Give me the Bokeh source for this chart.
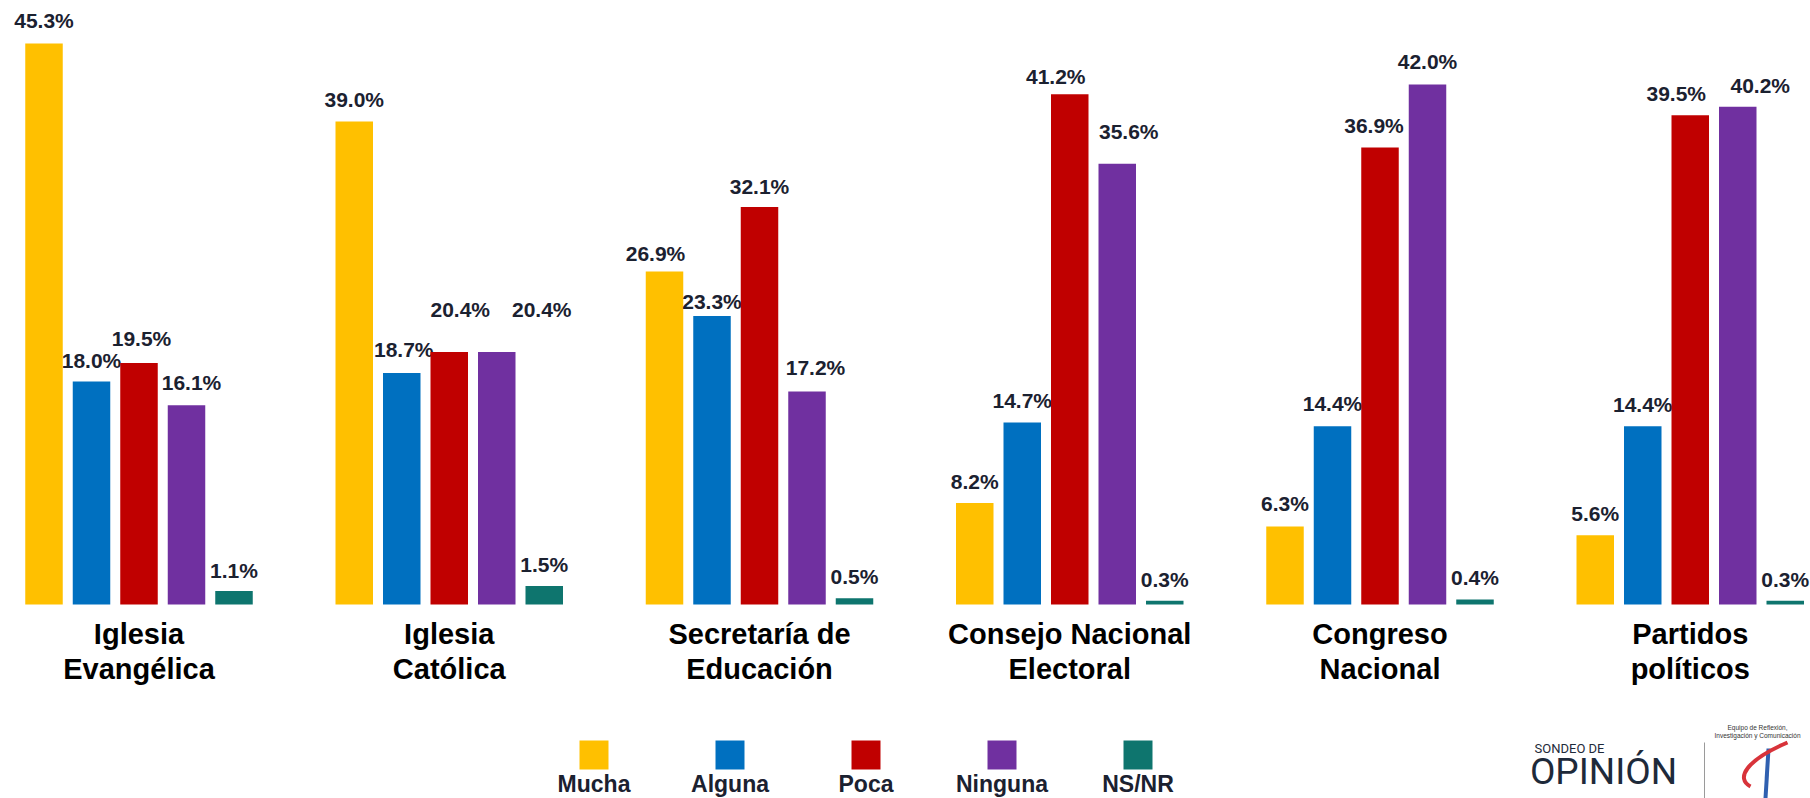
from bokeh.plotting import figure
from bokeh.models import Range1d, ColumnDataSource
from bokeh.core.properties import value
from bokeh.embed import file_html
from bokeh.resources import INLINE

# ---------------- data ----------------
categories = ["Iglesia\nEvangélica", "Iglesia\nCatólica", "Secretaría de\nEducación",
              "Consejo Nacional\nElectoral", "Congreso\nNacional", "Partidos\npolíticos"]
series = ["Mucha", "Alguna", "Poca", "Ninguna", "NS/NR"]
mucha = [45.3, 39.0, 26.9, 8.2, 6.3, 5.6]
alguna = [18.0, 18.7, 23.3, 14.7, 14.4, 14.4]
poca = [19.5, 20.4, 32.1, 41.2, 36.9, 39.5]
ninguna = [16.1, 20.4, 17.2, 35.6, 42.0, 40.2]
nsnr = [1.1, 1.5, 0.5, 0.3, 0.4, 0.3]
values_by_series = [mucha, alguna, poca, ninguna, nsnr]
colors = ["#FFC000", "#0070C0", "#C00000", "#7030A0", "#0E756E"]

# label nudges (screen px) – layout only
label_dx = [[0, 0, -9, 0, 0, 0],
            [0, 2, 0, 0, 0, 0],
            [2.5, 11, 0, -14, -6, -14],
            [5, 45, 8.5, 11.5, 0, 22.5],
            [0, 0, 0, 0, 0, 0]]
label_gap = [[16, 15, 11, 15, 16, 15],
             [14, 17, 8, 15, 16, 15],
             [18, 36, 14, 11, 15, 15],
             [16, 36, 17, 25, 16, 14],
             [14, 15, 15, 15, 15, 15]]

# ---------------- layout ----------------
W, H = 1810, 798
PX_X = 310.25          # px per group
PX_Y = 12.383          # px per percentage point
X0 = 138.5             # page px of first group centre
BASE = 604             # page px of baseline
BAR_STEP = 47.5 / PX_X
BAR_W = 37.5 / PX_X
SHIFT = 0.32           # empirical text baseline correction (fraction of font size)


def dx(page_x):
    return (page_x - X0) / PX_X


def dy(page_y):
    return (BASE - page_y) / PX_Y


def ty(page_y, fs):
    return dy(page_y - SHIFT * fs)


p = figure(width=W, height=H, x_range=Range1d(dx(0), dx(W)),
           y_range=Range1d(dy(H), dy(0)),
           output_backend="svg", toolbar_location=None,
           x_axis_type=None, y_axis_type=None, min_border=0,
           outline_line_color=None, background_fill_color="white",
           border_fill_color="white")
p.grid.visible = False

LABEL_COLOR = "#1b2130"
n = len(categories)
VFS = 21
for j, (name, vals, col) in enumerate(zip(series, values_by_series, colors)):
    xs = [i + (j - 2) * BAR_STEP for i in range(n)]
    src = ColumnDataSource(dict(x=xs, top=vals))
    p.vbar(x="x", top="top", bottom=0, width=BAR_W, source=src,
           fill_color=col, line_color=None)
    lx = [xs[i] + label_dx[j][i] / PX_X for i in range(n)]
    ly = [vals[i] + (label_gap[j][i] + SHIFT * VFS) / PX_Y for i in range(n)]
    lt = [f"{v:.1f}%" for v in vals]
    p.text(x=lx, y=ly, text=lt, text_font=value("Liberation Sans"),
           text_font_style="bold", text_font_size=f"{VFS}px", text_align="center",
           text_baseline="alphabetic", text_color=LABEL_COLOR)

# category labels (two lines)
CFS = 29
line1 = [c.split("\n")[0] for c in categories]
line2 = [c.split("\n")[1] for c in categories]
for lines, py in ((line1, 643), (line2, 678)):
    p.text(x=list(range(n)), y=[ty(py, CFS)] * n, text=lines,
           text_font=value("Liberation Sans"), text_font_style="bold",
           text_font_size=f"{CFS}px", text_align="center",
           text_baseline="alphabetic", text_color="#000000")

# legend
LFS = 23
leg_x = [dx(593.5 + 136 * k) for k in range(len(series))]
p.rect(x=leg_x, y=[dy(754.5)] * len(series), width=29, height=29,
       width_units="screen", height_units="screen",
       fill_color=colors, line_color=None)
p.text(x=leg_x, y=[ty(791, LFS)] * len(series), text=series,
       text_font=value("Liberation Sans"), text_font_style="bold",
       text_font_size=f"{LFS}px", text_align="center",
       text_baseline="alphabetic", text_color=LABEL_COLOR)

# logo area
p.text(x=[dx(1569)], y=[ty(752, 13)], text=["SONDEO DE"], text_font=value("Roboto"),
       text_font_size="13px", text_align="center", text_baseline="alphabetic",
       text_color="#1e2a3a")
p.text(x=[dx(1603)], y=[ty(783, 37)], text=["OPINIÓN"], text_font=value("Roboto"),
       text_font_size="37px", text_align="center", text_baseline="alphabetic",
       text_color="#1e2a3a")
p.line(x=[dx(1704), dx(1704)], y=[dy(742), dy(798)], line_color="#9a9a9a",
       line_width=1)
p.text(x=[dx(1757), dx(1757)], y=[ty(729, 6.5), ty(737, 6.5)],
       text=["Equipo de Reflexión,", "Investigación y Comunicación"],
       text_font=value("Liberation Sans"), text_font_size="6.5px",
       text_align="center", text_baseline="alphabetic", text_color="#333333")
p.line(x=[dx(1768), dx(1765)], y=[dy(748), dy(798)], line_color="#3060b0",
       line_width=4)
p.bezier(x0=[dx(1787)], y0=[dy(742)], x1=[dx(1750)], y1=[dy(786)],
         cx0=[dx(1745)], cy0=[dy(760)], cx1=[dx(1735)], cy1=[dy(778)],
         line_color="#d8333a", line_width=4)

open("out.html", "w").write(file_html(p, INLINE))
